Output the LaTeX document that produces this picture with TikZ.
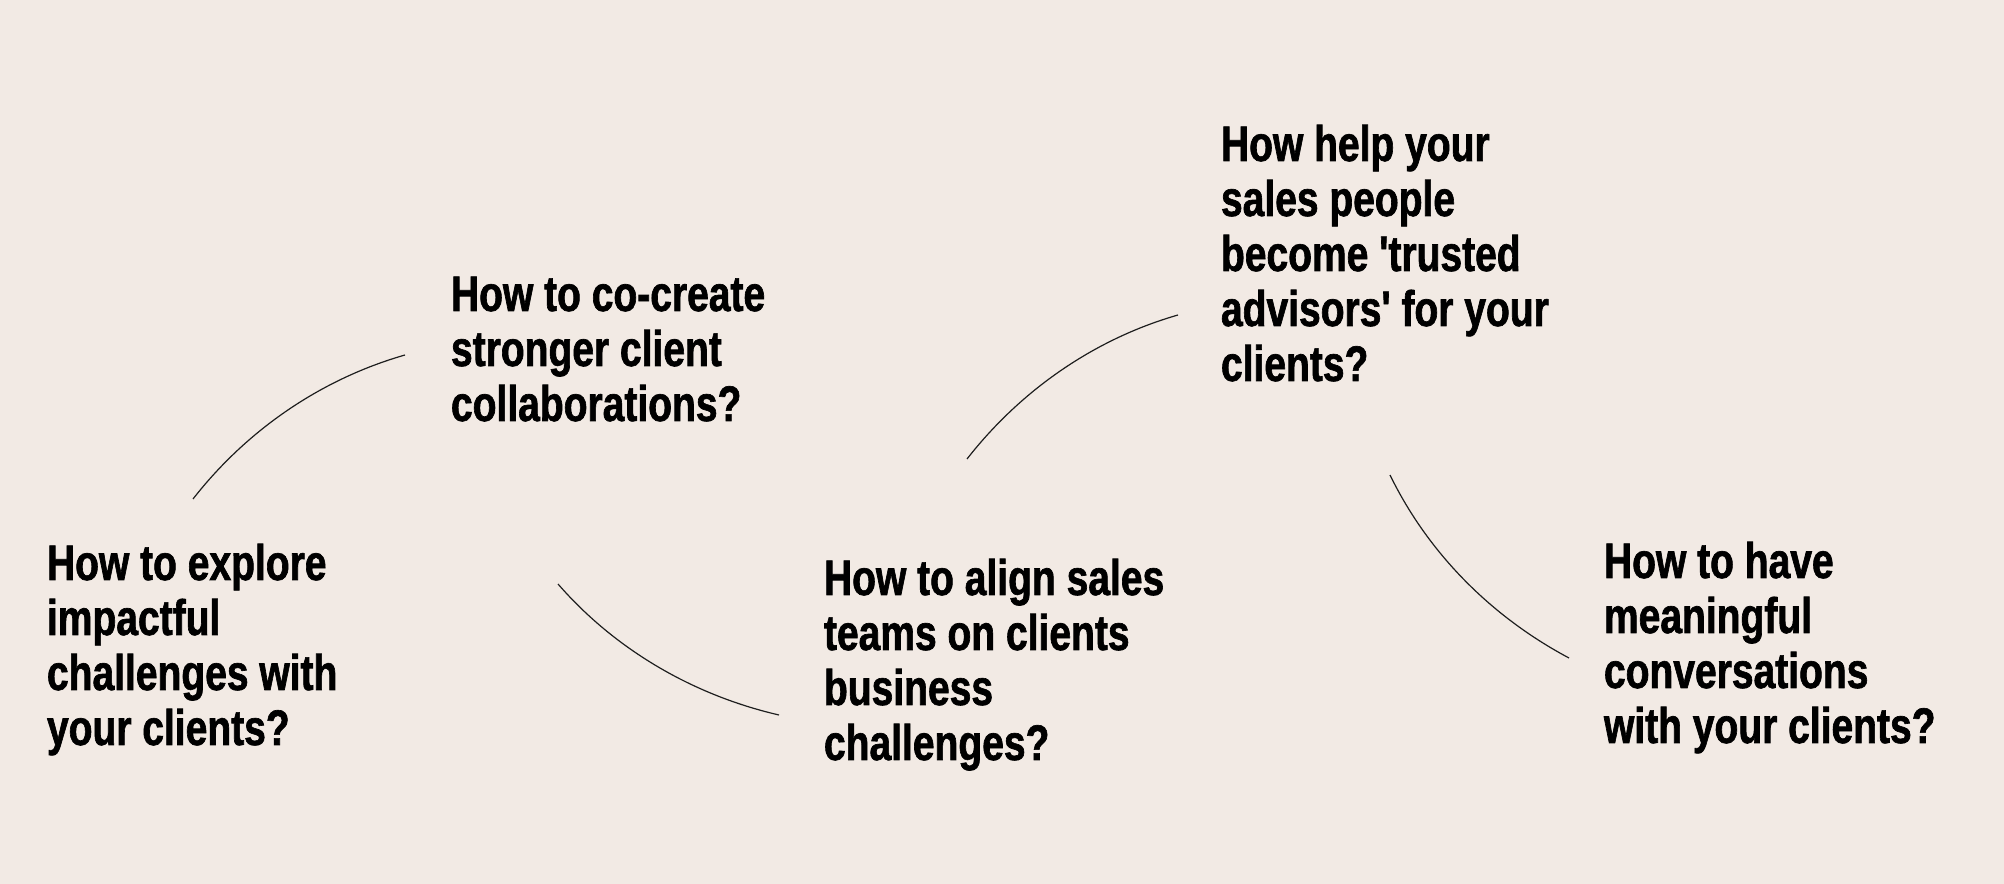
\documentclass[tikz,border=0pt]{standalone}
\usepackage{fontspec}
\newfontfamily\qfont{Liberation Sans}[FakeStretch=0.78,FakeBold=1.3]
\definecolor{bgbeige}{RGB}{242,234,228}
\definecolor{inkline}{RGB}{30,30,30}
\begin{document}
\begin{tikzpicture}[x=0.5pt,y=0.5pt,
  question/.style={anchor=base west,inner sep=0pt,outer sep=0pt,
    font=\qfont\bfseries\fontsize{25pt}{27.5pt}\selectfont,text=black},
  swoosh/.style={draw=inkline,line width=0.6pt,looseness=0.873}]
\useasboundingbox (0,0) rectangle (2004,884);
\fill[bgbeige] (0,0) rectangle (2004,884);

\node[question] (qa) at (47,304) {\begin{tabular}[t]{@{}l@{}}How to explore\\impactful\\challenges with\\your clients?\end{tabular}};
\node[question] (qb) at (451,573) {\begin{tabular}[t]{@{}l@{}}How to co-create\\stronger client\\collaborations?\end{tabular}};
\node[question] (qc) at (824,289) {\begin{tabular}[t]{@{}l@{}}How to align sales\\teams on clients\\business\\challenges?\end{tabular}};
\node[question] (qd) at (1221,723) {\begin{tabular}[t]{@{}l@{}}How help your\\sales people\\become 'trusted\\advisors' for your\\clients?\end{tabular}};
\node[question] (qe) at (1604,306) {\begin{tabular}[t]{@{}l@{}}How to have\\meaningful\\conversations\\with your clients?\end{tabular}};

\coordinate (a1s) at (193,385);
\coordinate (a1e) at (405,529);
\coordinate (a2s) at (558,300);
\coordinate (a2e) at (779,169);
\coordinate (a3s) at (967,425);
\coordinate (a3e) at (1178,569);
\coordinate (a4s) at (1390,409);
\coordinate (a4e) at (1569,226);

\draw[swoosh] (a1s) to[out=52,in=196] (a1e);
\draw[swoosh] (a2s) to[out=-49,in=167] (a2e);
\draw[swoosh] (a3s) to[out=52,in=196] (a3e);
\draw[swoosh] (a4s) to[out=-64,in=152] (a4e);
\end{tikzpicture}
\end{document}
